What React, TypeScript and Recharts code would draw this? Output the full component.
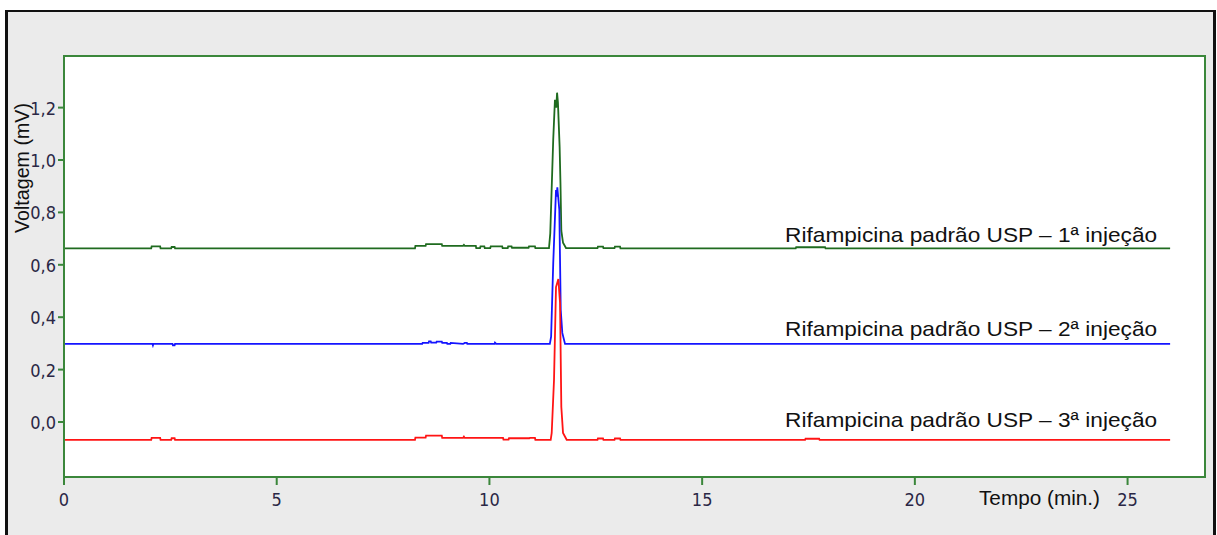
import React from 'react';
import { LineChart, Line, XAxis, YAxis, CartesianGrid, ReferenceArea, ReferenceDot } from 'recharts';

// chromatogram traces, time in min, signal in mV
const greenTime = [
  0, 2.05, 2.06, 2.26, 2.27, 2.52, 2.53, 2.6, 2.61, 8.25, 8.26, 8.5, 8.51, 8.88, 8.89, 9.38, 9.4, 9.42,
  9.68, 9.69, 9.78, 9.79, 9.88, 9.89, 10.02, 10.03, 10.3, 10.31, 10.43, 10.44, 10.52, 10.53, 10.92,
  10.93, 11.07, 11.08, 11.4, 11.43, 11.5, 11.54, 11.57, 11.59, 11.61, 11.65, 11.67, 11.69, 11.73, 11.8,
  12.54, 12.55, 12.67, 12.68, 12.94, 12.95, 13.07, 13.08, 17.2, 17.21, 17.89, 17.9, 26,
];
const greenVolt = [
  0.663, 0.663, 0.67, 0.67, 0.663, 0.663, 0.668, 0.668, 0.663, 0.663, 0.672, 0.672, 0.679, 0.679, 0.672,
  0.672, 0.676, 0.672, 0.672, 0.664, 0.664, 0.67, 0.67, 0.664, 0.664, 0.67, 0.67, 0.664, 0.664, 0.67,
  0.67, 0.665, 0.665, 0.67, 0.67, 0.664, 0.664, 0.72, 1.08, 1.23, 1.2, 1.257, 1.22, 1.05, 0.91, 0.73,
  0.684, 0.664, 0.664, 0.669, 0.669, 0.664, 0.664, 0.669, 0.669, 0.663, 0.663, 0.667, 0.667, 0.663, 0.663,
];

const blueTime = [
  0, 2.08, 2.09, 2.1, 2.55, 2.56, 2.6, 2.61, 8.42, 8.43, 8.57, 8.58, 8.62, 8.63, 8.75, 8.76, 8.88, 8.89,
  9.0, 9.01, 9.08, 9.09, 9.38, 9.42, 9.47, 9.48, 10.12, 10.13, 10.16, 11.42, 11.45, 11.5, 11.565, 11.58,
  11.596, 11.643, 11.676, 11.713, 11.777, 26,
];
const blueVolt = [
  0.298, 0.298, 0.293, 0.298, 0.298, 0.293, 0.293, 0.298, 0.298, 0.302, 0.302, 0.308, 0.308, 0.303,
  0.303, 0.307, 0.307, 0.302, 0.302, 0.298, 0.298, 0.302, 0.298, 0.302, 0.302, 0.298, 0.298, 0.303,
  0.298, 0.298, 0.326, 0.607, 0.885, 0.86, 0.896, 0.809, 0.427, 0.34, 0.298, 0.298,
];

const redTime = [
  0, 2.05, 2.06, 2.26, 2.27, 2.52, 2.53, 2.6, 2.61, 8.25, 8.26, 8.5, 8.51, 8.88, 8.89, 9.38, 9.4, 9.42,
  10.32, 10.33, 10.45, 10.46, 10.94, 10.95, 11.07, 11.08, 11.44, 11.464, 11.518, 11.565, 11.62, 11.66,
  11.69, 11.73, 11.816, 12.54, 12.55, 12.67, 12.68, 12.94, 12.95, 13.07, 13.08, 17.42, 17.43, 17.75,
  17.76, 26,
];
const redVolt = [
  -0.068, -0.068, -0.061, -0.061, -0.068, -0.068, -0.062, -0.062, -0.068, -0.068, -0.06, -0.06, -0.052,
  -0.052, -0.061, -0.061, -0.056, -0.061, -0.061, -0.067, -0.067, -0.062, -0.062, -0.061, -0.061,
  -0.068, -0.068, -0.042, 0.16, 0.515, 0.546, 0.454, 0.057, -0.042, -0.068, -0.068, -0.063, -0.063,
  -0.068, -0.068, -0.063, -0.063, -0.068, -0.068, -0.064, -0.064, -0.068, -0.068,
];

const seriesNames = [
  'Rifampicina padrão USP – 1ª injeção',
  'Rifampicina padrão USP – 2ª injeção',
  'Rifampicina padrão USP – 3ª injeção',
];
const labelTime = 16.95;
const labelVolt = [0.688, 0.328, -0.018];

const xTicks = [0, 5, 10, 15, 20, 25];
const yTicks = [0, 0.2, 0.4, 0.6, 0.8, 1.0, 1.2];
const xMax = 26.82;
const yMin = -0.21;
const yMax = 1.397;

const AXIS = '#3b873b';
const TICK_TEXT = '#2a2745';
const COLORS = ['#1f6b1f', '#1414ff', '#ff1414'];

const toRows = (t: number[], v: number[]) => t.map((x, i) => ({ t: x, v: v[i] }));
const traces = [toRows(greenTime, greenVolt), toRows(blueTime, blueVolt), toRows(redTime, redVolt)];

const tickFont = '"Liberation Sans Narrow", "DejaVu Sans Condensed", "Liberation Sans", sans-serif';
const textFont = '"Liberation Sans", Arial, sans-serif';

function XTick(props: any) {
  const { x, y, payload } = props;
  return (
    <text x={x} y={y} dy={19} textAnchor="middle" fill={TICK_TEXT} fontSize={18} fontFamily={tickFont}>
      {payload.value}
    </text>
  );
}

function YTick(props: any) {
  const { x, y, payload } = props;
  return (
    <text x={x} y={y} dy={7} textAnchor="end" fill={TICK_TEXT} fontSize={18} fontFamily={tickFont}>
      {payload.value.toFixed(1).replace('.', ',')}
    </text>
  );
}

function SeriesLabel(props: any) {
  const { cx, cy, text } = props;
  return (
    <text x={cx} y={cy} fontSize={21} fontFamily={textFont} fill="#111" textLength={372} lengthAdjust="spacingAndGlyphs">
      {text}
    </text>
  );
}

export default function App() {
  return (
    <div style={{ position: 'absolute', left: 0, top: 0, width: 1217, height: 535, overflow: 'hidden', background: '#fff' }}>
      <div
        style={{
          position: 'absolute',
          left: 5,
          top: 10,
          width: 1211,
          height: 540,
          boxSizing: 'border-box',
          border: '3px solid #111',
          borderTopWidth: 2,
          background: '#ebebeb',
        }}
      />
      <div style={{ position: 'absolute', left: 0, top: 0 }}>
        <LineChart width={1217} height={535} margin={{ top: 56, right: 12, bottom: 18, left: 14 }}>
          <CartesianGrid horizontal={false} vertical={false} fill="#ffffff" />
          <XAxis
            type="number"
            dataKey="t"
            domain={[0, xMax]}
            ticks={xTicks}
            allowDataOverflow
            height={40}
            stroke={AXIS}
            strokeWidth={2}
            tickSize={8}
            tick={<XTick />}
            label={(p: any) => (
              <text
                x={p.viewBox.x + 915}
                y={p.viewBox.y + 28}
                fontSize={20}
                fontFamily={textFont}
                fill="#111"
                textLength={121}
                lengthAdjust="spacingAndGlyphs"
              >
                Tempo (min.)
              </text>
            )}
          />
          <YAxis
            type="number"
            domain={[yMin, yMax]}
            ticks={yTicks}
            allowDataOverflow
            width={50}
            stroke={AXIS}
            strokeWidth={2}
            tickSize={6}
            tick={<YTick />}
            label={() => (
              <text
                x={29}
                y={168}
                transform="rotate(-90 29 168)"
                textAnchor="middle"
                fontSize={20}
                fontFamily={textFont}
                fill="#111"
                textLength={130}
                lengthAdjust="spacingAndGlyphs"
              >
                Voltagem (mV)
              </text>
            )}
          />
          {traces.map((d, i) => (
            <Line
              key={i}
              data={d}
              dataKey="v"
              type="linear"
              stroke={COLORS[i]}
              strokeWidth={1.8}
              dot={false}
              activeDot={false}
              isAnimationActive={false}
            />
          ))}
          {seriesNames.map((name, i) => (
            <ReferenceDot
              key={name}
              x={labelTime}
              y={labelVolt[i]}
              r={0}
              shape={(p: any) => <SeriesLabel {...p} text={name} />}
            />
          ))}
          <ReferenceArea x1={0} x2={xMax} y1={yMin} y2={yMax} fill="none" stroke={AXIS} strokeWidth={2} />
        </LineChart>
      </div>
    </div>
  );
}
